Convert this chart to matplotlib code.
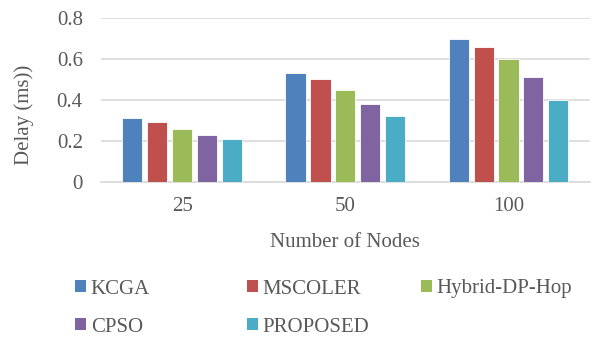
import numpy as np
import matplotlib
matplotlib.use("Agg")
import matplotlib.pyplot as plt
from matplotlib.patches import Patch

plt.rcParams['font.family'] = ['Liberation Serif', 'DejaVu Serif']

categories = ["25", "50", "100"]
series_names = ["KCGA", "MSCOLER", "Hybrid-DP-Hop", "CPSO", "PROPOSED"]
kcga = [0.31, 0.53, 0.70]
mscoler = [0.29, 0.50, 0.66]
hybrid_dp_hop = [0.26, 0.45, 0.60]
cpso = [0.23, 0.38, 0.51]
proposed = [0.21, 0.32, 0.40]
y_ticks = [0, 0.2, 0.4, 0.6, 0.8]
y_tick_labels = ["0", "0.2", "0.4", "0.6", "0.8"]

series = [kcga, mscoler, hybrid_dp_hop, cpso, proposed]
colors = ["#4F81BD", "#C0504D", "#9BBB59", "#8064A2", "#4BACC6"]
text_color = "#595959"
grid_color = "#D9D9D9"
fs = 15

fig = plt.figure(figsize=(5.93, 3.40), dpi=100)
ax = fig.add_axes([0.170, 0.465, 0.825, 0.482])

x = np.arange(len(categories))
bar_w = 0.123
step = 0.153
for i, (vals, col) in enumerate(zip(series, colors)):
    offs = (i - 2) * step
    ax.bar(x + offs, vals, width=bar_w, color=col, edgecolor="white",
           linewidth=0.6, zorder=3, label=series_names[i])

ax.set_xlim(-0.5, len(categories) - 0.5)
ax.set_ylim(0, 0.8)
ax.set_yticks(y_ticks)
ax.set_yticklabels(y_tick_labels)
ax.set_xticks(x)
ax.set_xticklabels(categories)
ax.yaxis.grid(True, color=grid_color, linewidth=1.2, zorder=0)
for s in ["top", "right", "left"]:
    ax.spines[s].set_visible(False)
ax.spines["bottom"].set_color(grid_color)
ax.spines["bottom"].set_linewidth(1.2)
ax.tick_params(axis="both", length=0, labelsize=fs, colors=text_color)
ax.tick_params(axis="x", pad=11)
ax.tick_params(axis="y", pad=13)

ax.set_xlabel("Number of Nodes", fontsize=fs, color=text_color, labelpad=12)
ax.set_ylabel("Delay (ms))", fontsize=fs, color=text_color, va="center")
ax.yaxis.set_label_coords(-0.157, 0.41)

# Legend entries laid out in an evenly spaced 3-column grid
col_x = [0.1265, 0.4165, 0.710]
row_y = [1 - 289 / 340, 1 - 327 / 340]
for i, (name, col) in enumerate(zip(series_names, colors)):
    r, c = divmod(i, 3)
    handle = Patch(facecolor=col, edgecolor="none")
    fig.legend(handles=[handle], labels=[name], loc="center left",
               bbox_to_anchor=(col_x[c], row_y[r]), frameon=False,
               fontsize=fs, labelcolor=text_color, handlelength=0.55,
               handleheight=0.55, handletextpad=0.2, borderpad=0,
               borderaxespad=0)

fig.savefig("out.png", dpi=100)
